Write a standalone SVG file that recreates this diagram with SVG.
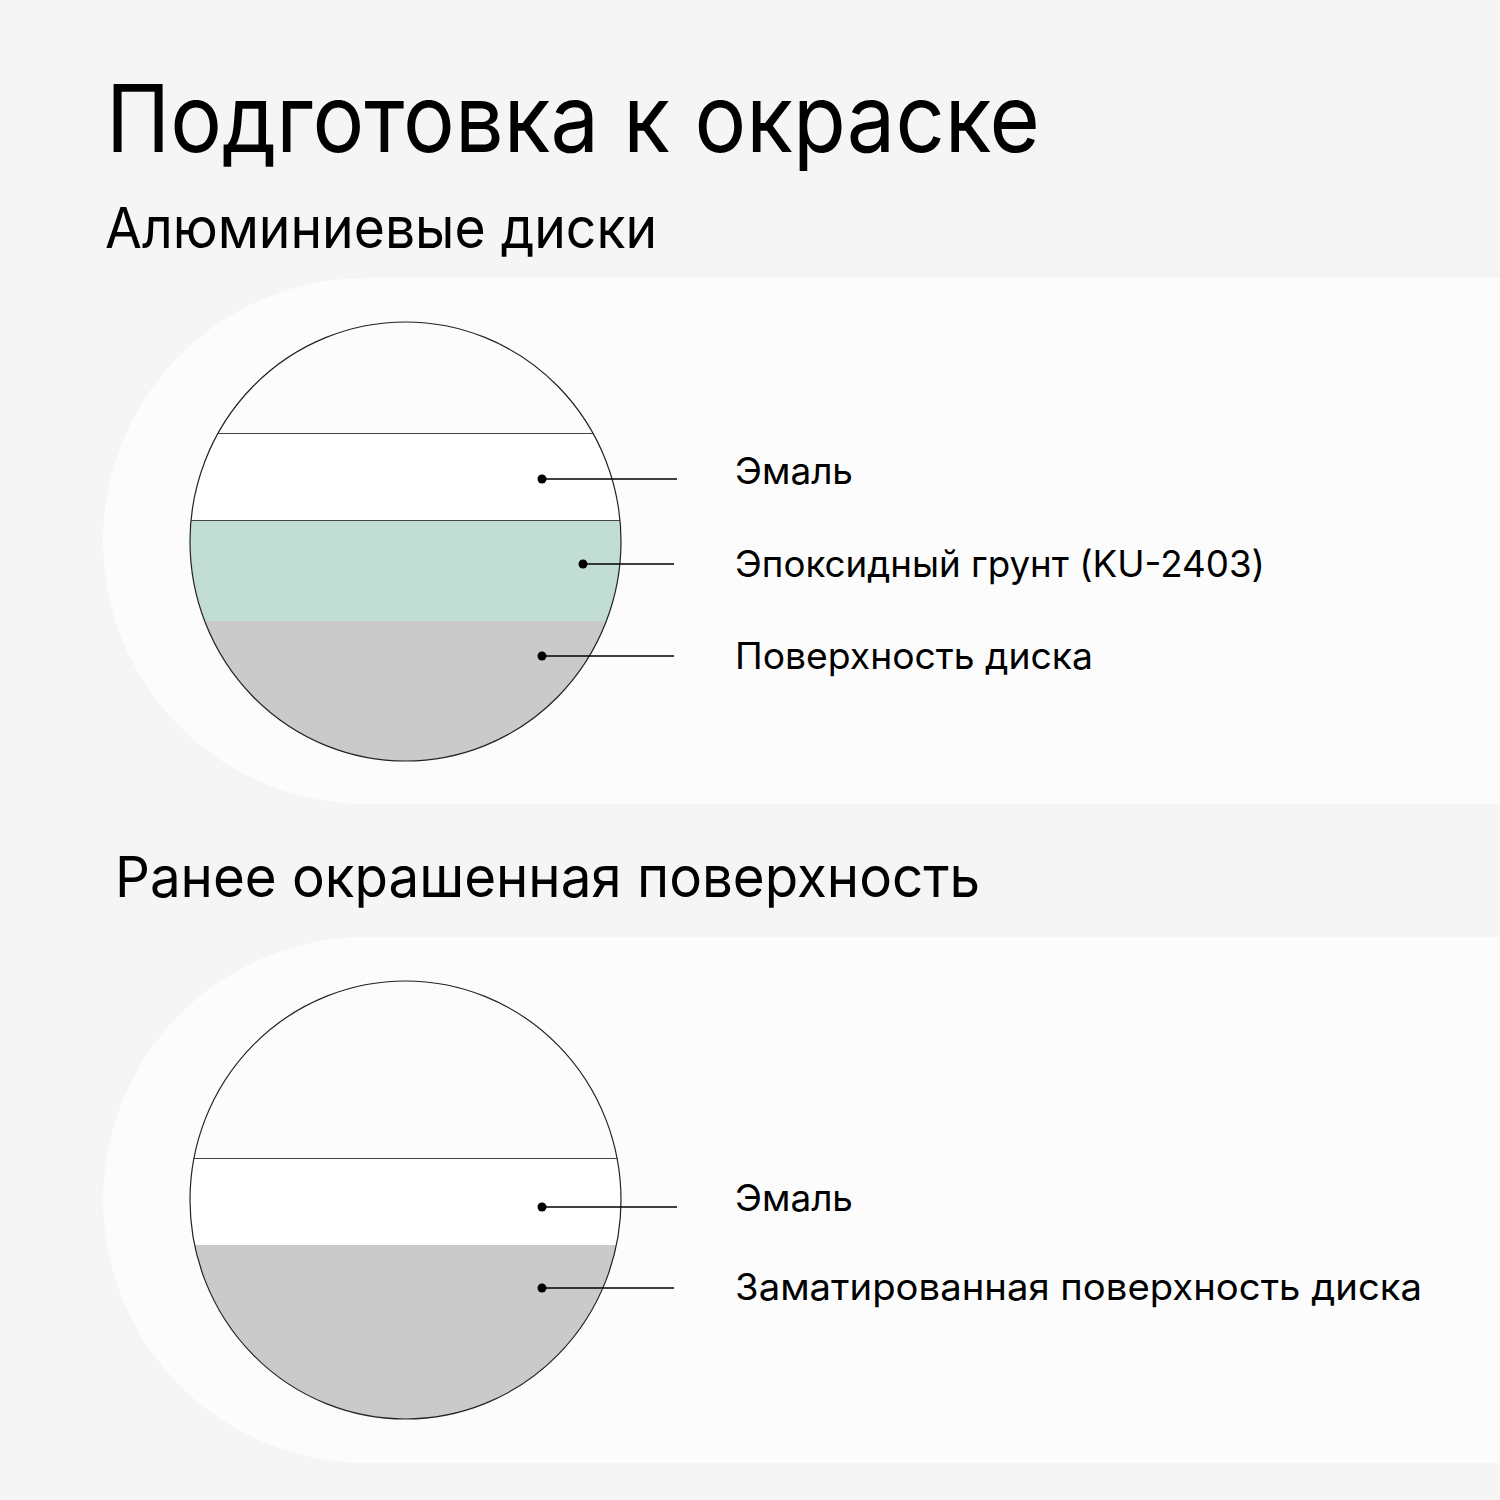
<svg xmlns="http://www.w3.org/2000/svg" width="1500" height="1500" viewBox="0 0 1500 1500">
<style>
.bg{fill:#f5f5f5}
.panel{fill:#fcfcfc}
.t{font-family:Inter,"Noto Sans","DejaVu Sans",sans-serif;fill:#000}
.h1{font-size:94px}
.h2{font-size:56px}
.lbl{font-size:37px}
.rim{fill:none;stroke:#222;stroke-width:1.2}
.sep{stroke:#444;stroke-width:1}
.lead{stroke:#000;stroke-width:1.6}
</style>
<defs>
<clipPath id="c1"><ellipse cx="405.5" cy="541.5" rx="215.5" ry="219.5"/></clipPath>
<clipPath id="c2"><ellipse cx="405.5" cy="1200" rx="215.5" ry="219"/></clipPath>
</defs>
<rect class="bg" x="0" y="0" width="1500" height="1500"/>
<text class="t h1" x="106" y="152" textLength="934" lengthAdjust="spacingAndGlyphs">Подготовка к окраске</text>
<text class="t h2" x="105" y="248" textLength="552" lengthAdjust="spacingAndGlyphs">Алюминиевые диски</text>
<g id="panel1">
<path class="panel" d="M366 278 H1500 V804 H366 A263 263 0 0 1 366 278 Z"/>
</g>
<g id="disc1">
<g clip-path="url(#c1)">
<rect x="180" y="315" width="450" height="118" fill="#fcfcfc"/>
<rect x="180" y="433" width="450" height="87" fill="#ffffff"/>
<rect x="180" y="520" width="450" height="101" fill="#c2ddd4"/>
<rect x="180" y="621" width="450" height="150" fill="#cacaca"/>
<line class="sep" x1="180" y1="433.5" x2="630" y2="433.5"/>
<line class="sep" x1="180" y1="520.5" x2="630" y2="520.5"/>
</g>
<ellipse class="rim" cx="405.5" cy="541.5" rx="215.5" ry="219.5"/>
</g>
<g id="connectors1">
<line class="lead" x1="542" y1="479" x2="677" y2="479"/><circle cx="542" cy="479" r="4.5"/>
<line class="lead" x1="583" y1="564" x2="674" y2="564"/><circle cx="583" cy="564" r="4.5"/>
<line class="lead" x1="542" y1="656" x2="674" y2="656"/><circle cx="542" cy="656" r="4.5"/>
</g>
<g id="labels1">
<text class="t lbl" x="735" y="484" textLength="118" lengthAdjust="spacingAndGlyphs">Эмаль</text>
<text class="t lbl" x="735" y="577" textLength="530" lengthAdjust="spacingAndGlyphs">Эпоксидный грунт (KU-2403)</text>
<text class="t lbl" x="735" y="669" textLength="358" lengthAdjust="spacingAndGlyphs">Поверхность диска</text>
</g>
<text class="t h2" x="115" y="897" textLength="865" lengthAdjust="spacingAndGlyphs">Ранее окрашенная поверхность</text>
<g id="panel2">
<path class="panel" d="M366 937 H1500 V1463 H366 A263 263 0 0 1 366 937 Z"/>
</g>
<g id="disc2">
<g clip-path="url(#c2)">
<rect x="180" y="975" width="450" height="183" fill="#fcfcfc"/>
<rect x="180" y="1158" width="450" height="87" fill="#ffffff"/>
<rect x="180" y="1245" width="450" height="180" fill="#cacaca"/>
<line class="sep" x1="180" y1="1158.5" x2="630" y2="1158.5"/>
</g>
<ellipse class="rim" cx="405.5" cy="1200" rx="215.5" ry="219"/>
</g>
<g id="connectors2">
<line class="lead" x1="542" y1="1207" x2="677" y2="1207"/><circle cx="542" cy="1207" r="4.5"/>
<line class="lead" x1="542" y1="1288" x2="674" y2="1288"/><circle cx="542" cy="1288" r="4.5"/>
</g>
<g id="labels2">
<text class="t lbl" x="735" y="1211" textLength="118" lengthAdjust="spacingAndGlyphs">Эмаль</text>
<text class="t lbl" x="735" y="1300" textLength="687" lengthAdjust="spacingAndGlyphs">Заматированная поверхность диска</text>
</g>
</svg>
